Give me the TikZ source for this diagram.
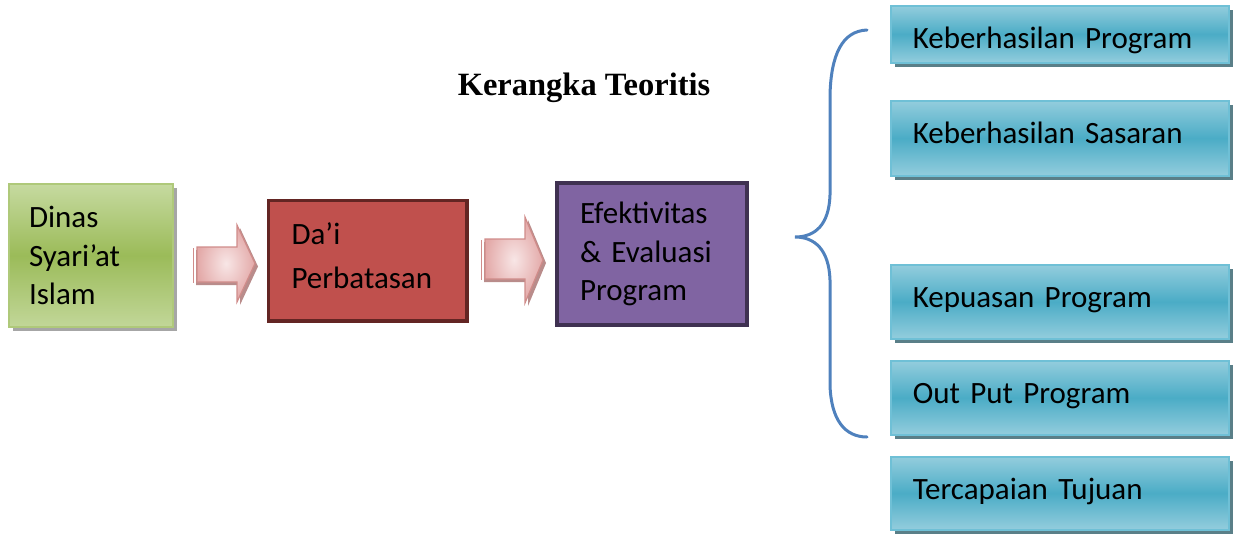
\documentclass[tikz,border=0pt]{standalone}
\usepackage{fontspec}
\setmainfont{Carlito}
\newfontfamily\titlefont{Liberation Serif}
\usetikzlibrary{shadows}
\definecolor{grnA}{HTML}{C6DAA0}
\definecolor{grnB}{HTML}{9BBB59}
\definecolor{grnD}{HTML}{9BBB59}
\definecolor{redF}{HTML}{C0504D}
\definecolor{redD}{HTML}{632523}
\definecolor{purF}{HTML}{8064A2}
\definecolor{purD}{HTML}{3F3151}
\definecolor{bluA}{HTML}{93CDDD}
\definecolor{bluB}{HTML}{4BACC6}
\definecolor{bluD}{HTML}{6FC0D6}
\definecolor{shd}{HTML}{5A7F88}
\definecolor{braceC}{HTML}{4F81BD}
\definecolor{arrIn}{HTML}{F8E6E6}
\definecolor{arrOut}{HTML}{E3A9A8}
\definecolor{arrD}{HTML}{D08C8A}
\definecolor{arrS}{HTML}{B98C8B}
\tikzset{
  txt/.style={font=\fontsize{31}{38.5}\selectfont, align=left, anchor=north west},
  grnbox/.style={txt, draw=grnD!80!white, line width=2, top color=grnA, bottom color=grnA!90!grnB, middle color=grnB,
    drop shadow={shadow xshift=4pt, shadow yshift=-4pt, fill=gray!70, opacity=1}},
  redbox/.style={txt, draw=redD, line width=3.5, fill=redF},
  purbox/.style={txt, draw=purD, line width=4, fill=purF},
  blubox/.style={txt, draw=bluD, line width=1.5, top color=bluA, bottom color=bluA, middle color=bluB,
    minimum width=338, inner xsep=22, text width=294, inner ysep=0, text height=42.5,
    drop shadow={shadow xshift=4pt, shadow yshift=-4pt, fill=shd, opacity=1}},
  arrmain/.style={draw=arrD, line width=1.2, inner color=arrIn, outer color=arrOut},
  arrshadow/.style={fill=arrS, draw=none},
  bracestyle/.style={draw=braceC, line width=3, line cap=round},
}
\newcommand{\blockarrow}[7]{% x0 xh x1 bodytop bodybot headtop headbot
  \fill[arrshadow] (#1+3,#4+3) -- (#2+3,#4+3) -- (#2+3,#6+3) -- (#3+3,{(#6+#7)/2+3}) -- (#2+3,#7+3) -- (#2+3,#5+3) -- (#1+3,#5+3) -- cycle;
  \draw[draw=arrD, line width=1] (#1,#4+1) -- (#1,#5+1);
  \draw[arrmain] (#1+4,#4) -- (#2,#4) -- (#2,#6) -- (#3,{(#6+#7)/2}) -- (#2,#7) -- (#2,#5) -- (#1+4,#5) -- cycle;
}
\begin{document}
\begin{tikzpicture}[x=1pt,y=-1pt]
\useasboundingbox (0,0) rectangle (1236,533);

\node[font=\titlefont\bfseries\fontsize{32.5}{38}\selectfont] (title) at (584,87.5) {Kerangka Teoritis};

\node[grnbox, minimum width=164, minimum height=143, inner xsep=20, text width=124] (dinas) at (8,183)
  {Dinas\\Syari’at\\Islam};
\node[redbox, font=\fontsize{31}{44}\selectfont, minimum width=198.5, inner ysep=0, inner xsep=23, text width=152.5, text height=44, text depth=76.5] (dai) at (266.75,198.75)
  {Da’i\\Perbatasan};
\node[purbox, minimum width=190, minimum height=142, inner xsep=23, text width=144] (efek) at (555,181)
  {Efektivitas\\\& Evaluasi\\Program};

\blockarrow{193}{237}{255}{247}{282}{225}{302}
\blockarrow{481}{525}{543}{239}{279}{217}{303}

\node[blubox, text depth=14.5] (b1) at (890,5) {Keberhasilan Program};
\node[blubox, text depth=32.5] (b2) at (890,100) {Keberhasilan Sasaran};
\node[blubox, text depth=31.5] (b3) at (890,264) {Kepuasan Program};
\node[blubox, text depth=31.5] (b4) at (890,360) {Out Put Program};
\node[blubox, text depth=30.5] (b5) at (890,456) {Tercapaian Tujuan};

\coordinate (btop) at (867,30);
\coordinate (btip) at (795,237);
\coordinate (bbot) at (867,437);
\draw[bracestyle] (btop) .. controls (842,31) and (831,55) .. (830,95) -- (830,195)
  .. controls (829,225) and (815,237) .. (btip)
  .. controls (815,237) and (829,250) .. (830,280) -- (830,385)
  .. controls (831,420) and (845,437) .. (bbot);
\end{tikzpicture}
\end{document}
